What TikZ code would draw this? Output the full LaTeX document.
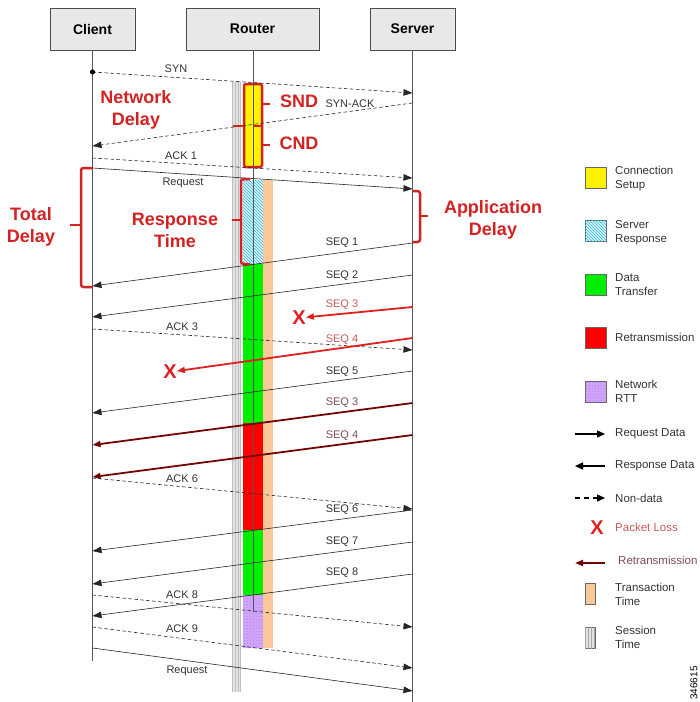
\documentclass[tikz,border=0pt]{standalone}
\usepackage{fontspec}
\setmainfont{Liberation Sans}
\usetikzlibrary{arrows.meta,patterns}
\definecolor{hdrfill}{HTML}{E8E8E8}
\definecolor{linegray}{HTML}{555555}
\definecolor{txtgray}{HTML}{333333}
\definecolor{bred}{HTML}{D42222}
\definecolor{lossred}{HTML}{E02020}
\definecolor{retx}{HTML}{720404}
\definecolor{retxtxt}{HTML}{7E4A5A}
\definecolor{losstxt}{HTML}{C85A5A}
\definecolor{dgreen}{HTML}{00EE00}
\definecolor{peach}{HTML}{FBC898}
\definecolor{lilac}{HTML}{D2A8FA}
\definecolor{lilacdot}{HTML}{B07CF0}
\definecolor{hatchc}{HTML}{30B8DC}
\definecolor{hatchbg}{HTML}{D8F4FC}
\definecolor{sessg}{HTML}{E2E2E2}
\begin{document}
\begin{tikzpicture}[x=1pt,y=-1pt,
  hdr/.style={draw=black!70, fill=hdrfill, line width=0.8pt, minimum height=42pt, inner sep=0pt, font=\bfseries\fontsize{14}{16}\selectfont},
  life/.style={draw=linegray, line width=0.7pt},
  msg/.style={draw=black!85, line width=0.6pt, -{Triangle[length=9pt,width=6.5pt]}},
  nodata/.style={msg, dash pattern=on 3.5pt off 2.5pt},
  lost/.style={draw=lossred, line width=1.8pt, -{Triangle[length=8pt,width=6pt]}},
  retxarrow/.style={draw=retx, line width=1.8pt, -{Triangle[length=8pt,width=6pt]}},
  legarrow/.style={draw=black, line width=1.4pt, -{Triangle[length=8pt,width=7pt]}},
  lbl/.style={font=\fontsize{11}{13}\selectfont, text=txtgray, inner sep=0pt},
  redlbl/.style={font=\bfseries\fontsize{18}{22}\selectfont, text=bred, align=center, inner sep=0pt},
  brk/.style={draw=bred, line width=2.5pt, rounded corners=2.5pt},
  xmark/.style={font=\bfseries\fontsize{20}{22}\selectfont, text=lossred, inner sep=0pt},
  legsq/.style={draw=black!60, line width=0.6pt, minimum width=21pt, minimum height=21pt, inner sep=0pt},
  legbar/.style={draw=black!60, line width=0.6pt, minimum width=10pt, minimum height=21pt, inner sep=0pt},
  legtxt/.style={font=\fontsize{11.5}{14}\selectfont, text=txtgray, anchor=west, align=left, inner sep=0pt}
]
\useasboundingbox (0,0) rectangle (700,702);

% headers
\node[hdr, minimum width=85pt] (client) at (92.5,29) {Client};
\node[hdr, minimum width=133pt] (router) at (252.5,29) {Router};
\node[hdr, minimum width=85pt] (server) at (412.5,29) {Server};

% bars
\fill[sessg] (232,82) rectangle (241,692);
\foreach \xx in {232.5,235.5,238,240.5}
  \draw[black!25, line width=0.4pt] (\xx,82) -- (\xx,692);
\fill[peach] (263,180) rectangle (273,648);
\fill[hatchbg] (243,180) rectangle (263,264);
\fill[pattern=north west lines, pattern color=hatchc] (243,180) rectangle (263,264);
\fill[dgreen] (243,264) rectangle (263,423);
\fill[red] (243,423) rectangle (263,530);
\fill[dgreen] (243,530) rectangle (263,595);
\fill[lilac] (243,595) rectangle (263,648);
\fill[pattern=crosshatch dots, pattern color=lilacdot] (243,595) rectangle (263,648);
\draw[fill=yellow, draw=bred, line width=2.5pt, rounded corners=2pt] (244,84) rectangle (262,167);

% lifelines
\draw[life] (client.south) -- (client.south |- 0,661);
\draw[life] (253.5,50) -- (253.5,612);
\draw[life] (server.south) -- (server.south |- 0,702);

% message coordinates
\coordinate (synA) at (92.5,72);   \coordinate (synB) at (412.5,93);
\coordinate (saA) at (412.5,103);  \coordinate (saB) at (92.5,146);
\coordinate (a1A) at (92.5,158);   \coordinate (a1B) at (412.5,178);
\coordinate (rqA) at (92.5,168);   \coordinate (rqB) at (412.5,189);
\coordinate (s1A) at (412.5,243);  \coordinate (s1B) at (92.5,286);
\coordinate (s2A) at (412.5,275);  \coordinate (s2B) at (92.5,317);
\coordinate (s3A) at (412.5,307);
\coordinate (a3A) at (92.5,329);   \coordinate (a3B) at (412.5,350);
\coordinate (s4A) at (412.5,338);
\coordinate (s5A) at (412.5,371);  \coordinate (s5B) at (92.5,413);
\coordinate (r3A) at (412.5,403);  \coordinate (r3B) at (92.5,445);
\coordinate (r4A) at (412.5,435);  \coordinate (r4B) at (92.5,477);
\coordinate (a6A) at (92.5,478);   \coordinate (a6B) at (412.5,509);
\coordinate (s6A) at (412.5,510);  \coordinate (s6B) at (92.5,551);
\coordinate (s7A) at (412.5,542);  \coordinate (s7B) at (92.5,584);
\coordinate (s8A) at (412.5,574);  \coordinate (s8B) at (92.5,616);
\coordinate (a8A) at (92.5,595);   \coordinate (a8B) at (412.5,627);
\coordinate (a9A) at (92.5,627);   \coordinate (a9B) at (412.5,668);
\coordinate (q2A) at (92.5,648);   \coordinate (q2B) at (412.5,691);

\node[xmark] (x1) at (299,318) {X};
\node[xmark] (x2) at (170,372) {X};

% messages
\fill[black] (synA) circle (2.6pt);
\draw[nodata] (synA) -- (synB);
\draw[nodata] (saA) -- (saB);
\draw[nodata] (a1A) -- (a1B);
\draw[msg] (rqA) -- (rqB);
\draw[msg] (s1A) -- (s1B);
\draw[msg] (s2A) -- (s2B);
\draw[lost] (s3A) -- (x1);
\draw[nodata] (a3A) -- (a3B);
\draw[lost] (s4A) -- (x2);
\draw[msg] (s5A) -- (s5B);
\draw[retxarrow] (r3A) -- (r3B);
\draw[retxarrow] (r4A) -- (r4B);
\draw[nodata] (a6A) -- (a6B);
\draw[msg] (s6A) -- (s6B);
\draw[msg] (s7A) -- (s7B);
\draw[msg] (s8A) -- (s8B);
\draw[nodata] (a8A) -- (a8B);
\draw[nodata] (a9A) -- (a9B);
\draw[msg] (q2A) -- (q2B);

% message labels
\node[lbl] (lsyn) at (176,69) {SYN};
\node[lbl] (lsa) at (350,104) {SYN-ACK};
\node[lbl] (la1) at (181,156) {ACK 1};
\node[lbl] (lrq) at (183,183) {Request};
\node[lbl] (ls1) at (342,243) {SEQ 1};
\node[lbl] (ls2) at (342,276) {SEQ 2};
\node[lbl, text=losstxt] (ls3) at (342,305) {SEQ 3};
\node[lbl] (la3) at (182,327) {ACK 3};
\node[lbl, text=losstxt] (ls4) at (342,340) {SEQ 4};
\node[lbl] (ls5) at (342,372) {SEQ 5};
\node[lbl, text=retxtxt] (lr3) at (342,403) {SEQ 3};
\node[lbl, text=retxtxt] (lr4) at (342,436) {SEQ 4};
\node[lbl] (la6) at (182,479) {ACK 6};
\node[lbl] (ls6) at (342,510) {SEQ 6};
\node[lbl] (ls7) at (342,542) {SEQ 7};
\node[lbl] (ls8) at (342,573) {SEQ 8};
\node[lbl] (la8) at (182,595) {ACK 8};
\node[lbl] (la9) at (182,629) {ACK 9};
\node[lbl] (lq2) at (187,671) {Request};

% brackets
\draw[bred, line width=2.5pt] (262,104) -- (270,104);
\draw[bred, line width=2.5pt] (262,145) -- (270,145);
\draw[bred, line width=2.5pt] (233,126) -- (244,126);
\draw[bred, line width=2.5pt] (254,126) -- (262,126);
\draw[brk] (250,179) -- (241,179) -- (241,264) -- (250,264);
\draw[bred, line width=2.5pt] (232,220) -- (241,220);
\draw[brk] (92.5,168) -- (81,168) -- (81,287) -- (92.5,287);
\draw[bred, line width=2.5pt] (70,225) -- (81,225);
\draw[brk] (412.5,191) -- (420,191) -- (420,242) -- (412.5,242);
\draw[bred, line width=2.5pt] (420,216) -- (428,216);

% red labels
\node[redlbl] (lnd) at (136,110) {Network\\Delay};
\node[redlbl] (lsnd) at (299,101) {SND};
\node[redlbl] (lcnd) at (299,143) {CND};
\node[redlbl] (lrt) at (175,230) {Response\\Time};
\node[redlbl] (ltd) at (31,227) {Total\\Delay};
\node[redlbl] (lad) at (493,220) {Application\\Delay};

% legend
\node[legsq, fill=yellow] (g1) at (595.5,177.5) {};
\node[legtxt] (t1) at (615,178.5) {Connection\\Setup};
\node[legsq, fill=hatchbg, postaction={pattern=north west lines, pattern color=hatchc}] (g2) at (595.5,231) {};
\node[legtxt] (t2) at (615,233) {Server\\Response};
\node[legsq, fill=dgreen] (g3) at (595.5,284.5) {};
\node[legtxt] (t3) at (615,285) {Data\\Transfer};
\node[legsq, fill=red] (g4) at (595.5,338) {};
\node[legtxt] (t4) at (615,337) {Retransmission};
\node[legsq, fill=lilac, postaction={pattern=crosshatch dots, pattern color=lilacdot}] (g5) at (595.5,391.5) {};
\node[legtxt] (t5) at (615,391.5) {Network\\RTT};

\coordinate (k1a) at (575,434); \coordinate (k1b) at (605,434);
\draw[legarrow] (k1a) -- (k1b);
\node[legtxt] (t6) at (615,434) {Request Data};
\coordinate (k2a) at (605,466); \coordinate (k2b) at (575,466);
\draw[legarrow] (k2a) -- (k2b);
\node[legtxt] (t7) at (615,466) {Response Data};
\coordinate (k3a) at (575,498); \coordinate (k3b) at (605,498);
\draw[legarrow, dash pattern=on 5pt off 4pt] (k3a) -- (k3b);
\node[legtxt] (t8) at (615,498) {Non-data};
\node[xmark] (g9) at (597,528) {X};
\node[legtxt, text=losstxt] (t9) at (615,527) {Packet Loss};
\coordinate (k4a) at (605,563); \coordinate (k4b) at (575,563);
\draw[retxarrow] (k4a) -- (k4b);
\node[legtxt, text=retxtxt] (t10) at (618,560) {Retransmission};
\node[legbar, fill=peach] (g11) at (590,594) {};
\node[legtxt] (t11) at (615,594.5) {Transaction\\Time};
\node[legbar, fill=sessg, postaction={pattern=vertical lines, pattern color=black!35}] (g12) at (590,637.5) {};
\node[legtxt] (t12) at (615,637) {Session\\Time};

\node[rotate=90, font=\fontsize{10}{11}\selectfont, inner sep=0pt] (fig) at (694,683) {346615};
\end{tikzpicture}
\end{document}
